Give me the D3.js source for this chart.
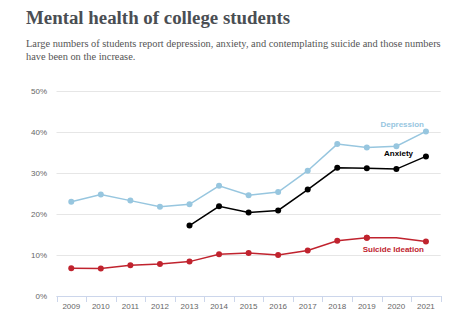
<!DOCTYPE html>
<html>
<head>
<meta charset="utf-8">
<script src="https://cdn.jsdelivr.net/npm/d3@7"></script>
<style>
  body { margin: 0; background: #fff; }
  svg { display: block; }
</style>
</head>
<body>
<script>
// chart data
var years = [2009, 2010, 2011, 2012, 2013, 2014, 2015, 2016, 2017, 2018, 2019, 2020, 2021];
var depression = [23.0, 24.8, 23.3, 21.8, 22.4, 26.9, 24.6, 25.4, 30.6, 37.1, 36.3, 36.6, 40.2];
var anxiety = [null, null, null, null, 17.2, 21.9, 20.4, 20.9, 26.0, 31.3, 31.2, 31.0, 34.1];
var suicide = [6.8, 6.7, 7.5, 7.8, 8.4, 10.2, 10.5, 10.0, 11.1, 13.5, 14.2, 14.2, 13.3];
var yTicks = [0, 10, 20, 30, 40, 50];

var width = 475, height = 329;

var svg = d3.select("body").append("svg")
    .attr("width", width)
    .attr("height", height);

// shrink/grow a text so it spans the given width
function fitText(sel, target) {
    var w = sel.node().getComputedTextLength();
    var fs = parseFloat(sel.attr("font-size"));
    sel.attr("font-size", (fs * target / w).toFixed(2));
}

// title + subtitle
var title = svg.append("text")
    .attr("x", 26).attr("y", 24)
    .attr("font-family", "Liberation Serif")
    .attr("font-weight", "bold")
    .attr("font-size", 17)
    .attr("fill", "#4a4e53")
    .text("Mental health of college students");
fitText(title, 264);

var sub = ["Large numbers of students report depression, anxiety, and contemplating suicide and those numbers",
           "have been on the increase."];
var subs = svg.selectAll(".sub").data(sub).enter().append("text")
    .attr("class", "sub")
    .attr("x", 26)
    .attr("y", function (d, i) { return 47 + i * 13; })
    .attr("font-family", "Liberation Serif")
    .attr("font-size", 10)
    .attr("fill", "#555")
    .text(function (d) { return d; });
fitText(d3.select(subs.nodes()[0]), 415);
d3.select(subs.nodes()[1]).attr("font-size", d3.select(subs.nodes()[0]).attr("font-size"));

var x = d3.scaleBand().domain(years).range([56.5, 440.7]);
var y = d3.scaleLinear().domain([0, 50]).range([296, 91.3]);

function cx(d, i) { return x(years[i]) + x.bandwidth() / 2; }

// grid
svg.selectAll(".grid").data(yTicks).enter().append("line")
    .attr("x1", 56.5).attr("x2", 440.7)
    .attr("y1", function (d) { return Math.round(y(d)) + 0.5; })
    .attr("y2", function (d) { return Math.round(y(d)) + 0.5; })
    .attr("stroke", "#e6e6e6");

svg.selectAll(".ylab").data(yTicks).enter().append("text")
    .attr("x", 47)
    .attr("y", function (d) { return y(d) + 3; })
    .attr("text-anchor", "end")
    .attr("font-family", "Liberation Sans")
    .attr("font-size", 8)
    .attr("fill", "#666")
    .text(function (d) { return d + "%"; });

// x axis
svg.append("line")
    .attr("x1", 56.5).attr("x2", 440.7)
    .attr("y1", 296.5).attr("y2", 296.5)
    .attr("stroke", "#ccd6eb");

var bounds = years.map(function (d) { return x(d); }).concat([x(years[years.length - 1]) + x.bandwidth()]);
svg.selectAll(".xtick").data(bounds).enter().append("line")
    .attr("x1", function (d) { return Math.round(d) + 0.5; })
    .attr("x2", function (d) { return Math.round(d) + 0.5; })
    .attr("y1", 296).attr("y2", 302)
    .attr("stroke", "#ccd6eb");

svg.selectAll(".xlab").data(years).enter().append("text")
    .attr("x", function (d) { return x(d) + x.bandwidth() / 2; })
    .attr("y", 309)
    .attr("text-anchor", "middle")
    .attr("font-family", "Liberation Sans")
    .attr("font-size", 8)
    .attr("fill", "#666")
    .text(function (d) { return d; });

var line = d3.line()
    .defined(function (d) { return d != null; })
    .x(cx)
    .y(function (d) { return y(d); });

var series = [
    { name: "Depression", values: depression, color: "#97c6df", lx: 424, ly: 127 },
    { name: "Anxiety", values: anxiety, color: "#000000", lx: 413, ly: 156 },
    { name: "Suicide Ideation", values: suicide, color: "#c0232e", lx: 424, ly: 252 }
];

series.forEach(function (s) {
    svg.append("path")
        .datum(s.values)
        .attr("d", line)
        .attr("fill", "none")
        .attr("stroke", s.color)
        .attr("stroke-width", 1.5);

    svg.selectAll(null).data(s.values).enter()
        .filter(function (d) { return d != null; })
        .append("circle")
        .attr("cx", function (d) { return cx(d, s.values.indexOf(d)); })
        .attr("cy", function (d) { return y(d); })
        .attr("r", 3)
        .attr("fill", s.color);

    svg.append("text")
        .attr("x", s.lx).attr("y", s.ly)
        .attr("text-anchor", "end")
        .attr("font-family", "Liberation Sans")
        .attr("font-weight", "bold")
        .attr("font-size", 8)
        .attr("fill", s.color)
        .text(s.name);
});
</script>
</body>
</html>
